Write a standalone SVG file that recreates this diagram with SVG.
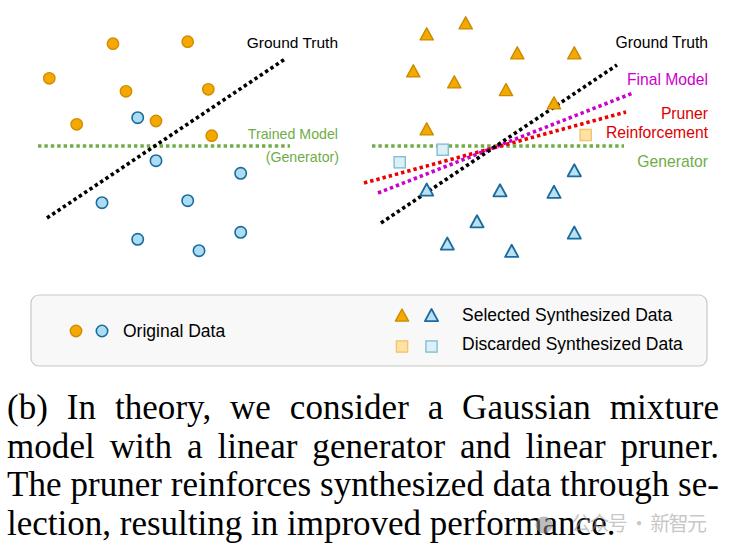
<svg xmlns="http://www.w3.org/2000/svg" xmlns:xlink="http://www.w3.org/1999/xlink" width="730" height="558" viewBox="0 0 730 558">
<style>
.lbl{font-family:"Liberation Sans",Arial,sans-serif;}
.cap{font-family:"Liberation Serif","Times New Roman",serif;font-size:35px;fill:#000;}
.oc{fill:#f5a900;stroke:#d08c00;stroke-width:1.4;}
.bc{fill:#aadcf2;stroke:#1b6a9e;stroke-width:1.6;}
.ot{fill:#f5a900;stroke:#c98a00;stroke-width:1.4;stroke-linejoin:round;}
.bt{fill:#b8e2f3;stroke:#1b6a9e;stroke-width:1.8;stroke-linejoin:round;}
.os{fill:#fde2a6;stroke:#f6c46a;stroke-width:1.4;}
.bs{fill:#dcf0f8;stroke:#86bdd6;stroke-width:1.4;}
.dot{fill:none;stroke-width:3.6;stroke-dasharray:3.4 3;}
</style>
<defs>
<polygon id="tri" points="0,-6.5 -6.6,5.6 6.6,5.6"/>
<rect id="sq" x="-5.6" y="-5.6" width="11.2" height="11.2"/>
</defs>
<rect width="730" height="558" fill="#ffffff"/>

<g id="connectors">
<line class="dot" x1="38" y1="146" x2="290" y2="146" stroke="#70ad47"/>
<line class="dot" x1="47" y1="218" x2="285" y2="59" stroke="#000"/>
<line class="dot" x1="372" y1="146" x2="624" y2="146" stroke="#70ad47"/>
<line class="dot" x1="364" y1="183" x2="626" y2="112" stroke="#ee0000"/>
<line class="dot" x1="378" y1="193" x2="633" y2="93" stroke="#cc00cc"/>
<line class="dot" x1="381" y1="223" x2="617" y2="65" stroke="#000"/>
</g>

<g id="left-original-data">
<circle class="oc" cx="113" cy="43.7" r="5.7"/>
<circle class="oc" cx="187.7" cy="41.7" r="5.7"/>
<circle class="oc" cx="49.3" cy="78.3" r="5.7"/>
<circle class="oc" cx="126" cy="91.3" r="5.7"/>
<circle class="oc" cx="208.3" cy="89.3" r="5.7"/>
<circle class="oc" cx="76.7" cy="124.3" r="5.7"/>
<circle class="oc" cx="156" cy="121" r="5.7"/>
<circle class="oc" cx="211.7" cy="135.7" r="5.7"/>
<circle class="bc" cx="137.7" cy="117.7" r="5.7"/>
<circle class="bc" cx="156" cy="160.7" r="5.7"/>
<circle class="bc" cx="240.7" cy="173.3" r="5.7"/>
<circle class="bc" cx="102" cy="202.7" r="5.7"/>
<circle class="bc" cx="187.7" cy="200.7" r="5.7"/>
<circle class="bc" cx="137.7" cy="239.3" r="5.7"/>
<circle class="bc" cx="199" cy="250.7" r="5.7"/>
<circle class="bc" cx="240.7" cy="232.3" r="5.7"/>
</g>

<g id="left-labels" class="lbl" text-anchor="end">
<text x="338" y="48" font-size="15.5" fill="#000">Ground Truth</text>
<text x="338" y="139" font-size="14.2" fill="#70ad47">Trained Model</text>
<text x="339" y="162" font-size="14.2" fill="#70ad47">(Generator)</text>
</g>

<g id="right-synthesized-data">
<use xlink:href="#tri" class="ot" x="426.7" y="34.3"/>
<use xlink:href="#tri" class="ot" x="465.7" y="23.3"/>
<use xlink:href="#tri" class="ot" x="517.3" y="53.3"/>
<use xlink:href="#tri" class="ot" x="574.3" y="53.3"/>
<use xlink:href="#tri" class="ot" x="413.3" y="71.3"/>
<use xlink:href="#tri" class="ot" x="454.3" y="82.3"/>
<use xlink:href="#tri" class="ot" x="506" y="90"/>
<use xlink:href="#tri" class="ot" x="554" y="103.3"/>
<use xlink:href="#tri" class="ot" x="426.7" y="129.3"/>
<use xlink:href="#tri" class="bt" x="574.3" y="170.7"/>
<use xlink:href="#tri" class="bt" x="426.7" y="190"/>
<use xlink:href="#tri" class="bt" x="500" y="190.7"/>
<use xlink:href="#tri" class="bt" x="554" y="192.3"/>
<use xlink:href="#tri" class="bt" x="477" y="221.7"/>
<use xlink:href="#tri" class="bt" x="574.3" y="233"/>
<use xlink:href="#tri" class="bt" x="447.3" y="244"/>
<use xlink:href="#tri" class="bt" x="511.7" y="251.3"/>
<use xlink:href="#sq" class="bs" x="442.7" y="149.7"/>
<use xlink:href="#sq" class="bs" x="399.7" y="162.3"/>
<use xlink:href="#sq" class="os" x="585.7" y="135"/>
</g>

<g id="right-labels" class="lbl" text-anchor="end" font-size="15.7">
<text x="708" y="48" fill="#000">Ground Truth</text>
<text x="708" y="85" fill="#cc00cc">Final Model</text>
<text x="708" y="119" fill="#dd0000">Pruner</text>
<text x="708" y="138" fill="#dd0000">Reinforcement</text>
<text x="708" y="166.5" fill="#70ad47">Generator</text>
</g>

<g id="legend">
<rect x="31" y="295" width="676" height="71" rx="8" fill="#f8f8f8" stroke="#c8c8c8" stroke-width="1.2"/>
<circle class="oc" cx="76" cy="331" r="5.7"/>
<circle class="bc" cx="102" cy="331" r="5.7"/>
<use xlink:href="#tri" class="ot" x="402" y="315.5"/>
<use xlink:href="#tri" class="bt" x="431.5" y="315.5"/>
<use xlink:href="#sq" class="os" x="402" y="346.5"/>
<use xlink:href="#sq" class="bs" x="431.5" y="346.5"/>
<g class="lbl" font-size="17.5" fill="#000">
<text x="123" y="336.5">Original Data</text>
<text x="462" y="320.5">Selected Synthesized Data</text>
<text x="462" y="350">Discarded Synthesized Data</text>
</g>
</g>

<g id="caption">
<text class="cap" x="7" y="419" word-spacing="10" textLength="712" lengthAdjust="spacing">(b) In theory, we consider a Gaussian mixture</text>
<text class="cap" x="7" y="457.5" word-spacing="6" textLength="712" lengthAdjust="spacing">model with a linear generator and linear pruner.</text>
<text class="cap" x="7" y="496" textLength="712" lengthAdjust="spacing">The pruner reinforces synthesized data through se-</text>
<text class="cap" x="7" y="534.5">lection, resulting in improved performance.</text>
</g>

<g id="watermark" opacity="0.55" fill="#9a9a9a">
<circle cx="544" cy="525" r="8.5" fill="#8a8a8a"/>
<text x="571" y="531" font-family="'Noto Sans CJK SC',sans-serif" font-size="20" textLength="136" lengthAdjust="spacing">公众号 · 新智元</text>
</g>
</svg>
